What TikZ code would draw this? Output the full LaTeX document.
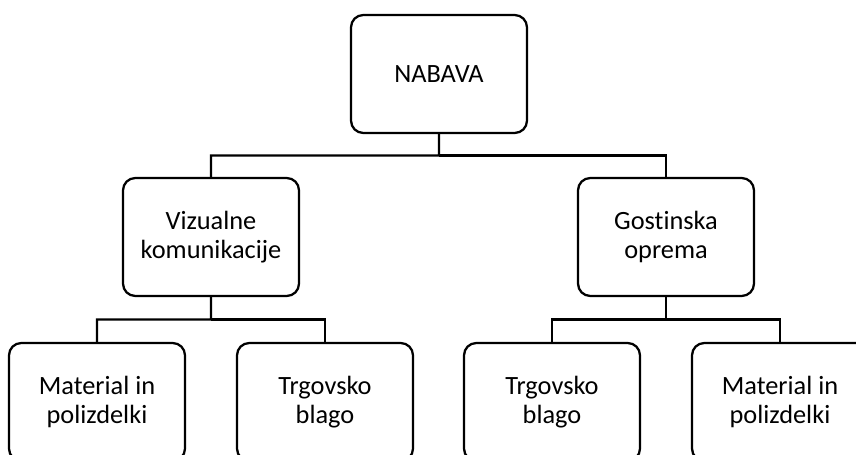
\documentclass[tikz,border=0pt]{standalone}
\usepackage{fontspec}
\setmainfont[Ligatures=NoCommon]{Carlito}
\usepackage{tikz}
\usetikzlibrary{calc}

\begin{document}
\begin{tikzpicture}[x=0.02cm, y=-0.02cm,
    box/.style={draw=black, line width=1.3pt, rounded corners=7pt, fill=white,
      minimum width=3.52cm, minimum height=2.36cm, align=center,
      font=\fontsize{15}{16.5}\selectfont},
    link/.style={draw=black, line width=1.3pt}]
  \useasboundingbox (0,0) rectangle (856,455);
  \clip (0,0) rectangle (856,455);
  % Top level
  \node[box] (nabava) at (439,74) {NABAVA};
  % Second level
  \node[box] (vizualne) at (211,237) {Vizualne\\komunikacije};
  \node[box] (gostinska) at (666,237) {Gostinska\\oprema};
  % Third level
  \node[box] (material1) at (97,402) {Material in\\polizdelki};
  \node[box] (trgovsko1) at (325,402) {Trgovsko\\blago};
  \node[box] (trgovsko2) at (552,402) {Trgovsko\\blago};
  \node[box] (material2) at (780,402) {Material in\\polizdelki};
  % Connectors
  \coordinate (topbus) at ($(nabava.south)!.5!(nabava.south |- vizualne.north)$);
  \draw[link] (nabava.south) -- (topbus) -| (vizualne.north);
  \draw[link] (topbus) -| (gostinska.north);
  \coordinate (leftbus) at ($(vizualne.south)!.5!(vizualne.south |- material1.north)$);
  \draw[link] (vizualne.south) -- (leftbus) -| (material1.north);
  \draw[link] (leftbus) -| (trgovsko1.north);
  \coordinate (rightbus) at ($(gostinska.south)!.5!(gostinska.south |- trgovsko2.north)$);
  \draw[link] (gostinska.south) -- (rightbus) -| (trgovsko2.north);
  \draw[link] (rightbus) -| (material2.north);
\end{tikzpicture}
\end{document}
